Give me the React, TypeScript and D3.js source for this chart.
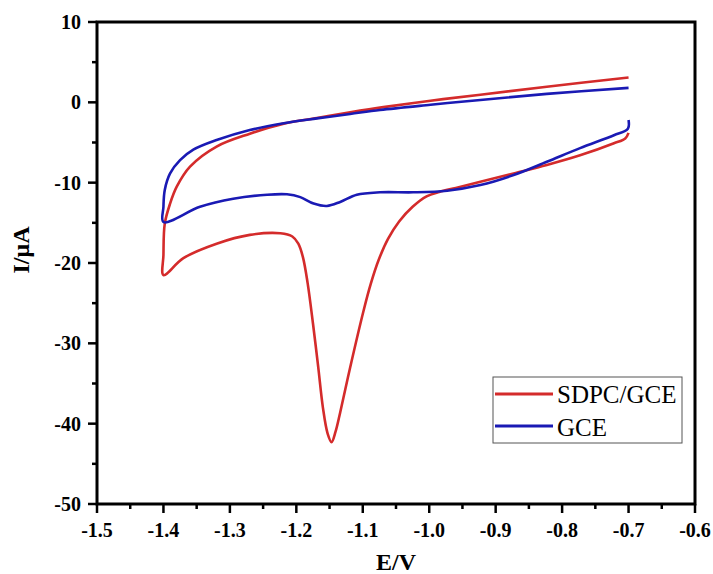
import React from "react";
import * as d3 from "d3";

const sdpcE = [-0.700, -0.705, -0.722, -0.773, -0.823, -0.873, -0.923, -0.960, -0.985, -1.004, -1.025, -1.045, -1.062, -1.076, -1.088, -1.099, -1.119, -1.134, -1.141, -1.147, -1.153, -1.160, -1.167, -1.175, -1.183, -1.190, -1.197, -1.206, -1.224, -1.270, -1.320, -1.370, -1.400, -1.400, -1.398, -1.390, -1.380, -1.360, -1.320, -1.270, -1.219, -1.169, -1.119, -1.069, -0.998, -0.923, -0.823, -0.700];
const sdpcI = [-3.8, -4.5, -5.1, -6.6, -7.8, -8.85, -9.9, -10.65, -11.15, -11.7, -13.0, -14.8, -17.0, -19.6, -22.6, -26.0, -33.0, -38.6, -41.0, -42.3, -41.2, -38.0, -33.0, -27.5, -22.5, -19.3, -17.6, -16.7, -16.3, -16.5, -17.6, -19.4, -21.5, -19.0, -15.1, -12.6, -10.5, -8.0, -5.5, -3.9, -2.65, -1.95, -1.25, -0.6, 0.2, 0.95, 1.95, 3.1];

const gceE = [-0.700, -0.701, -0.722, -0.773, -0.823, -0.873, -0.923, -0.973, -1.024, -1.074, -1.109, -1.134, -1.154, -1.174, -1.194, -1.214, -1.244, -1.295, -1.345, -1.400, -1.400, -1.398, -1.390, -1.375, -1.355, -1.320, -1.270, -1.219, -1.169, -1.119, -1.074, -0.998, -0.923, -0.823, -0.700];
const gceI = [-2.2, -3.3, -4.1, -5.7, -7.4, -9.05, -10.3, -11.0, -11.2, -11.2, -11.5, -12.4, -12.9, -12.6, -11.8, -11.45, -11.5, -12.0, -13.0, -14.9, -13.0, -10.9, -8.85, -7.2, -5.9, -4.7, -3.45, -2.6, -2.0, -1.45, -0.95, -0.3, 0.3, 1.05, 1.8];

const xTicks = [-1.5, -1.4, -1.3, -1.2, -1.1, -1.0, -0.9, -0.8, -0.7, -0.6];
const xTickLabels = ["-1.5", "-1.4", "-1.3", "-1.2", "-1.1", "-1.0", "-0.9", "-0.8", "-0.7", "-0.6"];
const yTicks = [10, 0, -10, -20, -30, -40, -50];
const yTickLabels = ["10", "0", "-10", "-20", "-30", "-40", "-50"];

const seriesNames = ["SDPC/GCE", "GCE"];
const seriesColors = ["#d42b2b", "#1a1ab4"];

export default function App() {
  const left = 97, right = 695, top = 22, bottom = 504;
  const x = d3.scaleLinear().domain([-1.5, -0.6]).range([left, right]);
  const y = d3.scaleLinear().domain([-50, 10]).range([bottom, top]);
  const line = d3
    .line<[number, number]>()
    .x((d) => x(d[0]))
    .y((d) => y(d[1]))
    .curve(d3.curveCatmullRom.alpha(0.5));

  const sdpc: [number, number][] = sdpcE.map((e, i) => [e, sdpcI[i]]);
  const gce: [number, number][] = gceE.map((e, i) => [e, gceI[i]]);

  const xMinor = d3.range(0, xTicks.length - 1).map((i) => (xTicks[i] + xTicks[i + 1]) / 2);
  const yMinor = d3.range(0, yTicks.length - 1).map((i) => (yTicks[i] + yTicks[i + 1]) / 2);

  const font = "'Liberation Serif', 'Times New Roman', serif";

  return (
    <svg width={713} height={574} style={{ position: "absolute", left: 0, top: 0, background: "#fff" }}>
      <rect x={0} y={0} width={713} height={574} fill="#fff" />
      <path d={line(sdpc) || ""} fill="none" stroke={seriesColors[0]} strokeWidth={2.6} strokeLinejoin="round" />
      <path d={line(gce) || ""} fill="none" stroke={seriesColors[1]} strokeWidth={2.6} strokeLinejoin="round" />

      <rect x={left} y={top} width={right - left} height={bottom - top} fill="none" stroke="#000" strokeWidth={3} />

      {xTicks.map((t, i) => (
        <g key={"xt" + i}>
          <line x1={x(t)} x2={x(t)} y1={bottom} y2={bottom + 9} stroke="#000" strokeWidth={2.5} />
          <text x={x(t)} y={537} textAnchor="middle" fontFamily={font} fontWeight="bold" fontSize={20}>
            {xTickLabels[i]}
          </text>
        </g>
      ))}
      {xMinor.map((t, i) => (
        <line key={"xm" + i} x1={x(t)} x2={x(t)} y1={bottom} y2={bottom + 5} stroke="#000" strokeWidth={2.5} />
      ))}
      {yTicks.map((t, i) => (
        <g key={"yt" + i}>
          <line x1={left - 9} x2={left} y1={y(t)} y2={y(t)} stroke="#000" strokeWidth={2.5} />
          <text x={81} y={y(t)} dy="0.35em" textAnchor="end" fontFamily={font} fontWeight="bold" fontSize={20}>
            {yTickLabels[i]}
          </text>
        </g>
      ))}
      {yMinor.map((t, i) => (
        <line key={"ym" + i} x1={left - 5} x2={left} y1={y(t)} y2={y(t)} stroke="#000" strokeWidth={2.5} />
      ))}

      <text x={396} y={570} textAnchor="middle" fontFamily={font} fontWeight="bold" fontSize={24}>
        E/V
      </text>
      <text
        transform="translate(29,250) rotate(-90)"
        textAnchor="middle"
        fontFamily={font}
        fontWeight="bold"
        fontSize={24}
      >
        I/μA
      </text>

      <rect x={493} y={377} width={189} height={66} fill="#fff" stroke="#555" strokeWidth={1} />
      {seriesNames.map((n, i) => (
        <g key={"lg" + i}>
          <line x1={495} x2={553} y1={394 + i * 32} y2={394 + i * 32} stroke={seriesColors[i]} strokeWidth={3} />
          <text x={557} y={403 + i * 33} fontFamily={font} fontSize={25}>
            {n}
          </text>
        </g>
      ))}
    </svg>
  );
}
